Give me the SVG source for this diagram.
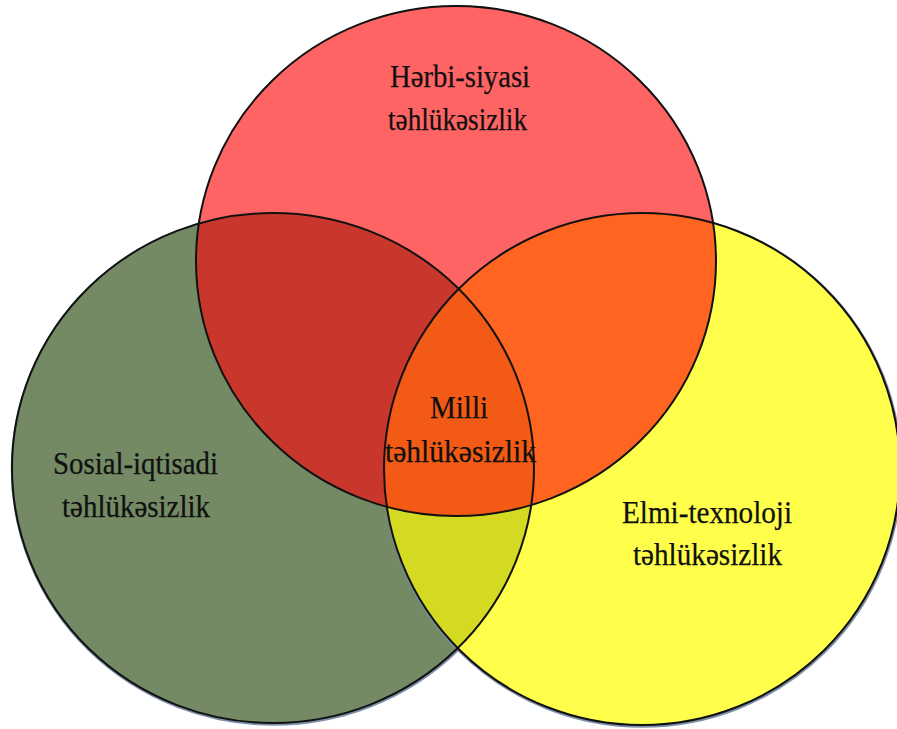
<svg xmlns="http://www.w3.org/2000/svg" width="897" height="729" viewBox="0 0 897 729">
  <style>
    .lbl { font-family: "Liberation Serif", "Times New Roman", serif; font-size: 32px; fill: #101010; stroke: #101010; stroke-width: 0.25; text-anchor: middle; }
    .outline { fill: none; stroke: #111111; stroke-width: 2; }
    .shadow { fill: none; stroke: #7d90a8; stroke-width: 3.5; }
  </style>
  <defs>
    <clipPath id="clipGreen"><ellipse cx="273" cy="468" rx="261" ry="255"/></clipPath>
    <clipPath id="clipYellow"><ellipse cx="642" cy="469" rx="258" ry="256"/></clipPath>
  </defs>

  <rect x="0" y="0" width="897" height="729" fill="#ffffff"/>

  <g id="social">
    <ellipse cx="273.5" cy="469" rx="261" ry="255" class="shadow"/>
    <ellipse cx="273" cy="468" rx="261" ry="255" fill="#738a65"/>
  </g>
  <g id="tech">
    <ellipse cx="642.5" cy="470" rx="258" ry="256" class="shadow"/>
    <ellipse cx="642" cy="469" rx="258" ry="256" fill="#ffff4b"/>
  </g>
  <g id="military">
    <ellipse cx="456" cy="261" rx="260" ry="255" fill="#ff6464"/>
  </g>

  <g id="overlaps">
    <ellipse cx="642" cy="469" rx="258" ry="256" fill="#d4da22" clip-path="url(#clipGreen)"/>
    <ellipse cx="456" cy="261" rx="260" ry="255" fill="#c9372c" clip-path="url(#clipGreen)"/>
    <ellipse cx="456" cy="261" rx="260" ry="255" fill="#ff6420" clip-path="url(#clipYellow)"/>
    <g clip-path="url(#clipGreen)">
      <ellipse cx="456" cy="261" rx="260" ry="255" fill="#f25a16" clip-path="url(#clipYellow)"/>
    </g>
  </g>

  <g id="outlines">
    <ellipse cx="273" cy="468" rx="261" ry="255" class="outline"/>
    <ellipse cx="642" cy="469" rx="258" ry="256" class="outline"/>
    <ellipse cx="456" cy="261" rx="260" ry="255" class="outline"/>
  </g>

  <g id="label-military">
    <text class="lbl" x="460" y="87" textLength="140" lengthAdjust="spacingAndGlyphs">Hərbi-siyasi</text>
    <text class="lbl" x="457.5" y="130" textLength="139" lengthAdjust="spacingAndGlyphs">təhlükəsizlik</text>
  </g>
  <g id="label-national">
    <text class="lbl" x="459" y="418" textLength="58" lengthAdjust="spacingAndGlyphs">Milli</text>
    <text class="lbl" x="460.5" y="462" textLength="151" lengthAdjust="spacingAndGlyphs">təhlükəsizlik</text>
  </g>
  <g id="label-social">
    <text class="lbl" x="135.5" y="474" textLength="165" lengthAdjust="spacingAndGlyphs">Sosial-iqtisadi</text>
    <text class="lbl" x="136" y="517" textLength="148" lengthAdjust="spacingAndGlyphs">təhlükəsizlik</text>
  </g>
  <g id="label-tech">
    <text class="lbl" x="707" y="523" textLength="170" lengthAdjust="spacingAndGlyphs">Elmi-texnoloji</text>
    <text class="lbl" x="707.5" y="565" textLength="149" lengthAdjust="spacingAndGlyphs">təhlükəsizlik</text>
  </g>
</svg>
